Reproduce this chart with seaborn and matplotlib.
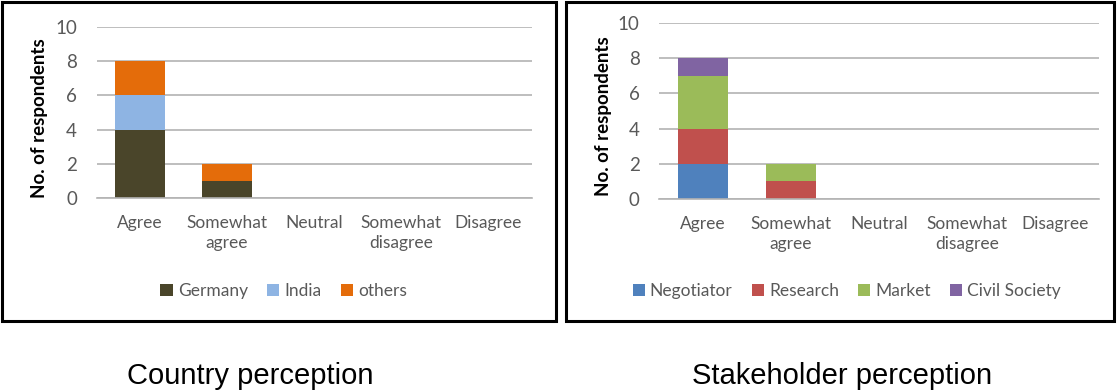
import matplotlib
matplotlib.use("Agg")
import matplotlib.pyplot as plt
import seaborn as sns
import numpy as np
from matplotlib.patches import Rectangle, Patch

categories = ["Agree", "Somewhat\nagree", "Neutral", "Somewhat\ndisagree", "Disagree"]

country_series = ["Germany", "India", "others"]
germany = [4, 1, 0, 0, 0]
india = [2, 0, 0, 0, 0]
others = [2, 1, 0, 0, 0]
country_colors = ["#4A452A", "#8EB4E3", "#E46C0A"]

stake_series = ["Negotiator", "Research", "Market", "Civil Society"]
negotiator = [2, 0, 0, 0, 0]
research = [2, 1, 0, 0, 0]
market = [3, 1, 0, 0, 0]
civil = [1, 0, 0, 0, 0]
stake_colors = ["#4F81BD", "#C0504D", "#9BBB59", "#8064A2"]

yticks = [0, 2, 4, 6, 8, 10]
captions = ["Country perception", "Stakeholder perception"]

sns.set_theme(style="white")
plt.rcParams["font.family"] = ["Lato", "DejaVu Sans"]

W, H = 1117, 391
fig = plt.figure(figsize=(W / 100, H / 100), dpi=100)


def px_axes(x0, x1, ytop, ybot):
    return fig.add_axes([x0 / W, 1 - ybot / H, (x1 - x0) / W, (ybot - ytop) / H])


def draw_panel(ax, series_names, series_vals, colors, leg_x, leg_y, ylab_x, ylab_y):
    bottom = np.zeros(len(categories))
    for name, vals, col in zip(series_names, series_vals, colors):
        sns.barplot(x=categories, y=vals, bottom=bottom, color=col, width=0.57,
                    ax=ax, saturation=1, linewidth=0, label=name)
        bottom = bottom + np.array(vals)
    ax.set_ylim(0, 10)
    ax.set_yticks(yticks)
    ax.yaxis.grid(True, color="#B3B3B3", linewidth=1.2)
    ax.set_axisbelow(True)
    for s in ["top", "right", "left"]:
        ax.spines[s].set_visible(False)
    ax.spines["bottom"].set_color("#B3B3B3")
    ax.spines["bottom"].set_linewidth(1.2)
    ax.tick_params(axis="x", length=0, pad=12, labelsize=12.5, labelcolor="#595959")
    ax.tick_params(axis="y", length=0, pad=14, labelsize=13.5, labelcolor="#595959")
    for t in ax.get_xticklabels():
        t.set_linespacing(1.3)
    ax.set_ylabel("No. of respondents", fontsize=13.5, fontweight="bold", color="black")
    ax.yaxis.set_label_coords(ylab_x, ylab_y)
    ax.set_xlabel("")
    handles = [Patch(facecolor=c, edgecolor="none") for c in colors]
    ax.legend(handles, series_names, loc="center", bbox_to_anchor=(leg_x, leg_y),
              ncol=len(series_names), frameon=False, fontsize=12.5,
              handlelength=0.7, handleheight=0.7, handletextpad=0.3,
              columnspacing=1.1, labelcolor="#595959")


ax1 = px_axes(96.5, 531.5, 27, 198)
draw_panel(ax1, country_series, [germany, india, others], country_colors, 0.43, -0.544, -0.111, 0.47)

ax2 = px_axes(659, 1099, 23, 199)
draw_panel(ax2, stake_series, [negotiator, research, market, civil], stake_colors, 0.427, -0.523, -0.107, 0.47)

# panel borders
for (x0, x1) in [(2, 556), (566, 1114)]:
    fig.patches.append(Rectangle((x0 / W, 1 - 321 / H), (x1 - x0) / W, 319 / H,
                                 transform=fig.transFigure, fill=False,
                                 edgecolor="black", linewidth=2.2))

fig.text(250 / W, 1 - 376 / H, captions[0], ha="center", va="center",
         fontsize=21, family=["Liberation Sans", "DejaVu Sans"], color="black")
fig.text(842 / W, 1 - 376 / H, captions[1], ha="center", va="center",
         fontsize=21, family=["Liberation Sans", "DejaVu Sans"], color="black")

fig.savefig("out.png", dpi=100, facecolor="white")
